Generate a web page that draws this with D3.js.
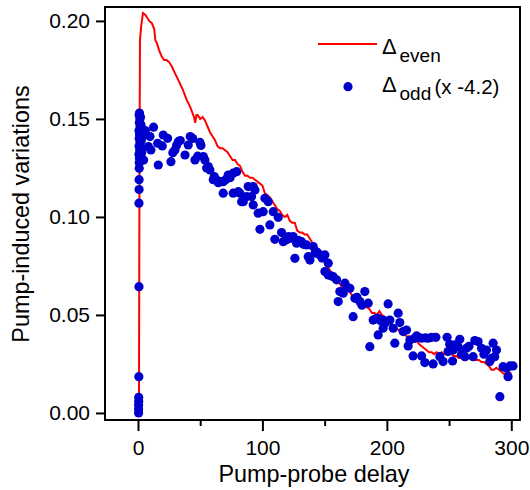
<!DOCTYPE html>
<html>
<head>
<meta charset="utf-8">
<script src="https://d3js.org/d3.v7.min.js"></script>
<style>
  body { margin: 0; background: #fff; }
  text { font-family: "Liberation Sans", Arial, sans-serif; fill: #000; }
</style>
</head>
<body>
<div id="chart"></div>
<script>
// Delta_even : [delay, value]
const evenPoints = [
  [0,0],[0.8,0.005],[1.2,0.12],[1.6,0.19],[2.5,0.197],[4,0.204],[6,0.203],[9,0.200],[11,0.199],[13,0.196],
  [14,0.190],[15,0.189],[17,0.185],[19,0.182],[21,0.180],[23,0.180],[25,0.179],[27,0.177],[30,0.173],[33,0.169],
  [36,0.165],[39,0.160],[42,0.156],[45,0.151],[46,0.148],[47,0.152],[48,0.152],[50,0.150],[52,0.151],[54,0.149],
  [56,0.146],[58,0.143],[60,0.141],[62,0.139],[64,0.136],[66,0.135],[68,0.135],[70,0.134],[72,0.133],[74,0.131],
  [76,0.129],[78,0.129],[80,0.127],[82,0.126],[84,0.123],[86,0.121],[88,0.121],[90,0.120],[92,0.120],[94,0.119],
  [96,0.118],[98,0.117],[100,0.116],[102,0.112],[104,0.111],[106,0.110],[108,0.108],[110,0.106],[112,0.104],[114,0.103],
  [116,0.101],[118,0.100],[120,0.101],[122,0.098],[124,0.097],[126,0.097],[128,0.093],[130,0.092],[132,0.092],[134,0.091],
  [136,0.091],[138,0.089],[140,0.087],[142,0.086],[144,0.084],[146,0.082],[148,0.080],[150,0.078],[152,0.075],[154,0.073],
  [156,0.071],[158,0.069],[160,0.067],[162,0.066],[164,0.064],[166,0.064],[168,0.063],[170,0.062],[172,0.060],[174,0.059],
  [176,0.058],[178,0.057],[180,0.056],[182,0.055],[184,0.054],[186,0.053],[188,0.051],[190,0.051],[192,0.050],[194,0.052],
  [196,0.050],[198,0.049],[200,0.048],[202,0.046],[204,0.045],[206,0.043],[208,0.043],[210,0.042],[212,0.041],[214,0.040],
  [216,0.039],[218,0.039],[220,0.038],[222,0.037],[224,0.037],[226,0.035],[228,0.034],[230,0.033],[232,0.032],[234,0.031],
  [236,0.031],[238,0.030],[240,0.031],[242,0.030],[244,0.031],[246,0.030],[248,0.030],[250,0.031],[252,0.030],[254,0.029],
  [256,0.029],[258,0.028],[260,0.028],[262,0.028],[264,0.027],[266,0.028],[268,0.028],[270,0.027],[272,0.027],[274,0.027],
  [276,0.026],[278,0.026],[280,0.025],[282,0.024],[284,0.022],[286,0.022],[288,0.023],[290,0.022],[292,0.021],[294,0.020],
  [296,0.020],[298,0.021],[300,0.020]
];

// Delta_odd scaled by -4.2 : [delay, value]
const oddPoints = [
  [0.5,0.000],[0.5,0.002],[0.5,0.004],[0.6,0.006],[0.6,0.008],[0.7,0.0185],[0.8,0.0644],[0.8,0.107],[0.9,0.114],[0.9,0.119],
  [1.0,0.1248],[1.0,0.1276],[1.2,0.130],[0.8,0.132],[1.4,0.134],[0.9,0.136],[1.6,0.138],[1.0,0.140],[1.3,0.142],[0.8,0.144],
  [1.7,0.146],[1.1,0.148],[1.5,0.150],[0.9,0.152],[1.2,0.153],[2.0,0.151],[2.4,0.147],[2.2,0.143],[2.6,0.139],[2.0,0.135],
  [2.5,0.131],[3.0,0.133],[3.4,0.141],[3.0,0.145],
  [4.5,0.129],[6,0.144],[8.3,0.1359],[9.6,0.141],[10.4,0.1342],[12.5,0.1458],[15.8,0.1376],[16.3,0.1265],[19.5,0.1362],[20.3,0.1418],
  [23.8,0.1401],[26.5,0.1282],[28,0.1328],[29.7,0.1342],[31,0.1365],[32.4,0.1384],[34,0.139],[37.8,0.1316],[40.4,0.1367],[42,0.141],
  [44,0.140],[45.8,0.1291],[48,0.131],[49.8,0.138],[50.6,0.1365],[52.5,0.1308],[53.8,0.1291],[55.2,0.125],[56.5,0.1257],[57.8,0.124],
  [60.5,0.119],[61.3,0.1206],[63.2,0.1189],[64.5,0.1175],[66.5,0.118],[68.5,0.118],[68.5,0.1121],[70.5,0.119],[72.5,0.1214],[74,0.120],
  [76.5,0.1223],[76.5,0.1121],[79.3,0.1231],[80.6,0.1129],[81.9,0.1121],[83.3,0.1078],[84.6,0.1078],[87.3,0.1104],[88.6,0.1155],[91.3,0.1104],
  [92.6,0.1155],[92.6,0.1061],[94,0.1138],
  [96.6,0.1019],[98,0.0937],[100.6,0.1027],[102,0.1095],[104.7,0.1078],[106,0.0959],[108.7,0.1027],[110,0.0886],[112.7,0.0998],[115.4,0.092],
  [116.7,0.0874],[119.4,0.0883],[121,0.090],[123.5,0.0891],[124.7,0.090],[126.1,0.0789],[127.5,0.0866],[129,0.088],[131.5,0.0874],[133,0.086],
  [135.5,0.0857],[136.8,0.0797],[138.2,0.078],[140.8,0.0849],[142.2,0.0815],[144,0.082],[146.2,0.0806],[148,0.079],[150.2,0.0806],[150.2,0.0721],
  [152.9,0.0764],[152.9,0.0704],[155,0.070],[156.9,0.0695],[159.6,0.0679],[160.9,0.0568],[162.2,0.0619],[164.9,0.0611],[166.3,0.0662],[167.6,0.0644],
  [170.3,0.0636],[172.9,0.0491],[174.3,0.0585],[176,0.059],[178.3,0.0568],[180,0.055],[182.3,0.0619],[185,0.056],
  [186.3,0.0338],[189,0.0474],[191,0.048],[193,0.0483],[193,0.0398],[195,0.047],[197,0.0474],[197,0.0432],[199,0.046],[201,0.0556],
  [202.4,0.0474],[205.1,0.0432],[206.4,0.0356],[209.1,0.0509],[210.4,0.0461],[213.1,0.0415],[215.8,0.0423],[217.1,0.0342],[218.5,0.0372],[221.1,0.0291],
  [222,0.038],[223.9,0.0393],[226,0.0385],[227.9,0.0381],[227.9,0.0291],[230.5,0.0257],[231,0.0383],[233.2,0.0381],[236,0.0386],[237.2,0.025],
  [239.4,0.0386],[242.6,0.0287],[245.2,0.0262],[248.4,0.0386],[249.2,0.0313],[250.5,0.035],[252.8,0.0265],[253.3,0.0321],[254.6,0.0347],[257.3,0.0338],
  [258.6,0.0376],[260,0.030],[262.7,0.0287],[264,0.033],[266,0.034],[269.3,0.0287],[270.7,0.0369],[273.3,0.0364],[276.1,0.033],[278,0.030],
  [280.1,0.0321],[282.7,0.0262],[284.1,0.0279],[285.4,0.0356],[286.7,0.0287],[288.1,0.0321],[290.8,0.0083],[293.4,0.0236],[296.1,0.0228],[297.4,0.0185],
  [299,0.024],[301.4,0.024]
];

const xTicksMajor = [0, 100, 200, 300];
const xTicksMinor = [50, 150, 250];
const yTicks = [0, 0.05, 0.10, 0.15, 0.20];

const width = 530, height = 490;
const plotLeft = 105, plotRight = 520, plotTop = 7, plotBottom = 420;

const svg = d3.select("#chart").append("svg")
  .attr("width", width)
  .attr("height", height);

const x = d3.scaleLinear().domain([-26.5, 307]).range([plotLeft, plotRight]);
const y = d3.scaleLinear().domain([-0.0036, 0.2071]).range([plotBottom, plotTop]);

// data
const line = d3.line().x(d => x(d[0])).y(d => y(d[1]));

svg.append("path")
  .datum(evenPoints)
  .attr("d", line)
  .attr("fill", "none")
  .attr("stroke", "#ff0000")
  .attr("stroke-width", 2);

svg.selectAll(".dot")
  .data(oddPoints)
  .enter().append("circle")
  .attr("class", "dot")
  .attr("cx", d => x(d[0]))
  .attr("cy", d => y(d[1]))
  .attr("r", 4.6)
  .attr("fill", "#0000cc");

// frame
svg.append("rect")
  .attr("x", plotLeft).attr("y", plotTop)
  .attr("width", plotRight - plotLeft).attr("height", plotBottom - plotTop)
  .attr("fill", "none")
  .attr("stroke", "#000")
  .attr("stroke-width", 2);

// axes
const xAxis = svg.append("g")
  .attr("transform", "translate(0," + plotBottom + ")")
  .call(d3.axisBottom(x).tickValues(xTicksMajor).tickSize(11).tickPadding(9).tickFormat(d3.format("d")));

svg.append("g")
  .attr("transform", "translate(0," + plotBottom + ")")
  .call(d3.axisBottom(x).tickValues(xTicksMinor).tickSize(6).tickFormat(""));

const yAxis = svg.append("g")
  .attr("transform", "translate(" + plotLeft + ",0)")
  .call(d3.axisLeft(y).tickValues(yTicks).tickSize(9).tickPadding(6).tickFormat(d3.format(".2f")));

svg.selectAll(".domain").remove();
svg.selectAll(".tick line").attr("stroke", "#000").attr("stroke-width", 2);
xAxis.selectAll("text").style("font-size", "21px").attr("fill", "#000");
yAxis.selectAll("text").style("font-size", "21px").attr("fill", "#000");

// axis titles
svg.append("text")
  .attr("x", 314)
  .attr("y", 482)
  .attr("text-anchor", "middle")
  .style("font-size", "23.4px")
  .text("Pump-probe delay");

svg.append("text")
  .attr("transform", "translate(29," + 214 + ") rotate(-90)")
  .attr("text-anchor", "middle")
  .style("font-size", "23.4px")
  .text("Pump-induced variations");

// legend
svg.append("line")
  .attr("x1", 318).attr("x2", 377)
  .attr("y1", 44).attr("y2", 44)
  .attr("stroke", "#ff0000")
  .attr("stroke-width", 2);

svg.append("text").attr("x", 382).attr("y", 53.5).style("font-size", "22px").text("Δ");
svg.append("text").attr("x", 399.5).attr("y", 61.7).style("font-size", "19px").text("even");

svg.append("circle")
  .attr("cx", 348).attr("cy", 86.7)
  .attr("r", 4.6)
  .attr("fill", "#0000cc");

svg.append("text").attr("x", 382).attr("y", 91.7).style("font-size", "22px").text("Δ");
svg.append("text").attr("x", 399.5).attr("y", 100).style("font-size", "19px").text("odd");
svg.append("text").attr("x", 434.5).attr("y", 94).style("font-size", "20.5px").text("(x -4.2)");
</script>
</body>
</html>
